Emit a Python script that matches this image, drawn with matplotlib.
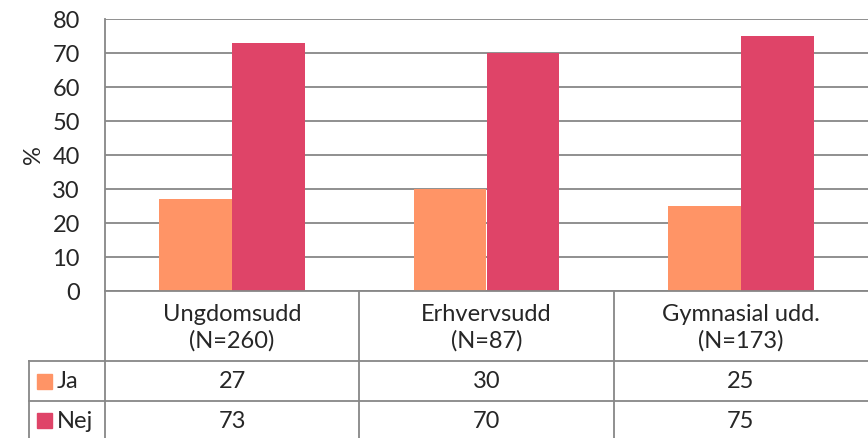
import matplotlib
matplotlib.use("Agg")
import matplotlib.pyplot as plt
from matplotlib.patches import Rectangle

categories = ["Ungdomsudd\n(N=260)", "Erhvervsudd\n(N=87)", "Gymnasial udd.\n(N=173)"]
series_names = ["Ja", "Nej"]
ja = [27, 30, 25]
nej = [73, 70, 75]
yticks = [0, 10, 20, 30, 40, 50, 60, 70, 80]
colors = ["#FF9466", "#DF4468"]
grid_c = "#878787"
txt_c = "#262626"

plt.rcParams['font.family'] = ['Lato', 'DejaVu Sans']
FS = 17
W, H = 868, 438
fig = plt.figure(figsize=(W/100, H/100), dpi=100)

# pixel geometry
x0, x1 = 105, 868
ytop, ybot = 19, 291
ax = fig.add_axes([x0/W, (H-ybot)/H, (x1-x0)/W, (ybot-ytop)/H])
n = len(categories)
bw = 0.287
xs = list(range(n))
ax.bar([x - bw/2 for x in xs], ja, width=bw, color=colors[0], zorder=3)
ax.bar([x + bw/2 for x in xs], nej, width=bw, color=colors[1], zorder=3)
ax.set_xlim(-0.5, n - 0.5)
ax.set_ylim(0, 80)
ax.set_yticks(yticks)
ax.set_yticklabels([str(v) for v in yticks], fontsize=FS, color=txt_c)
ax.tick_params(axis='y', length=0, pad=18)
ax.tick_params(axis='x', length=0, labelbottom=False)
ax.yaxis.grid(True, color=grid_c, linewidth=1.3, zorder=0)
for s in ax.spines.values():
    s.set_visible(False)
ax.set_ylabel("%", fontsize=FS, color=txt_c, labelpad=6)

# table overlay in pixel coordinates
ov = fig.add_axes([0, 0, 1, 1], zorder=5)
ov.set_xlim(0, W)
ov.set_ylim(H, 0)
ov.axis('off')
lw = 1.3
cw = (x1 - x0) / n
colx = [x0 + i*cw for i in range(n+1)]
ov.plot([x0, x0], [ytop, H], color=grid_c, lw=lw)
for cx in colx[1:-1]:
    ov.plot([cx, cx], [ybot, H], color=grid_c, lw=lw)
ov.plot([29, 29], [361, H], color=grid_c, lw=lw)
ov.plot([x0, W], [ybot, ybot], color=grid_c, lw=lw)
ov.plot([29, W], [361, 361], color=grid_c, lw=lw)
ov.plot([29, W], [401, 401], color=grid_c, lw=lw)

for i, cat in enumerate(categories):
    cx = x0 + (i + 0.5) * cw
    ov.text(cx, 328, cat, ha='center', va='center', fontsize=FS, color=txt_c,
            linespacing=1.3)
rows = [ja, nej]
row_y = [381, 420]
for r, (name, vals) in enumerate(zip(series_names, rows)):
    ov.add_patch(Rectangle((37, row_y[r]-7), 15, 15, color=colors[r]))
    ov.text(57, row_y[r]+1, name, ha='left', va='center', fontsize=FS, color=txt_c)
    for i, v in enumerate(vals):
        cx = x0 + (i + 0.5) * cw
        ov.text(cx, row_y[r]+1, str(v), ha='center', va='center', fontsize=FS, color=txt_c)

fig.savefig("out.png", dpi=100)
